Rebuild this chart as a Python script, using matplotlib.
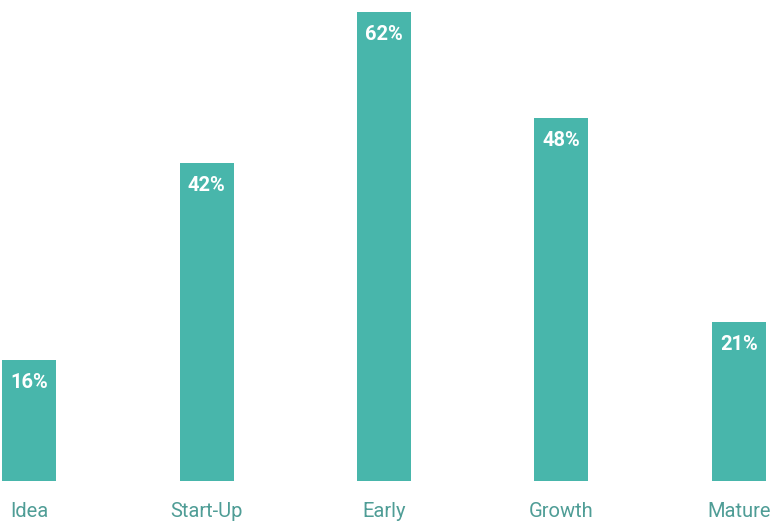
import matplotlib.pyplot as plt
import numpy as np

stages = ['Idea', 'Start-Up', 'Early', 'Growth', 'Mature']
shares = [16, 42, 62, 48, 21]

bar_color = '#48b6ab'
label_color = '#4f9d96'

plt.rcParams['font.family'] = ['Roboto', 'DejaVu Sans']

fig = plt.figure(figsize=(7.73, 5.23), dpi=100)
ax = fig.add_axes([0, 0, 1, 1])

x = np.arange(len(stages))
ax.bar(x, shares, width=0.304, color=bar_color)

for xi, v, name in zip(x, shares, stages):
    ax.text(xi, v - 2.95, f'{v}%', ha='center', va='center',
            color='white', fontsize=14.5, fontweight='bold')
    ax.text(xi, -3.97, name, ha='center', va='center',
            color=label_color, fontsize=14.5, fontweight='normal')

ax.set_xlim(-0.165, 4.193)
ax.set_ylim(-5.55, 63.59)
ax.axis('off')

fig.savefig('out.png', dpi=100)
